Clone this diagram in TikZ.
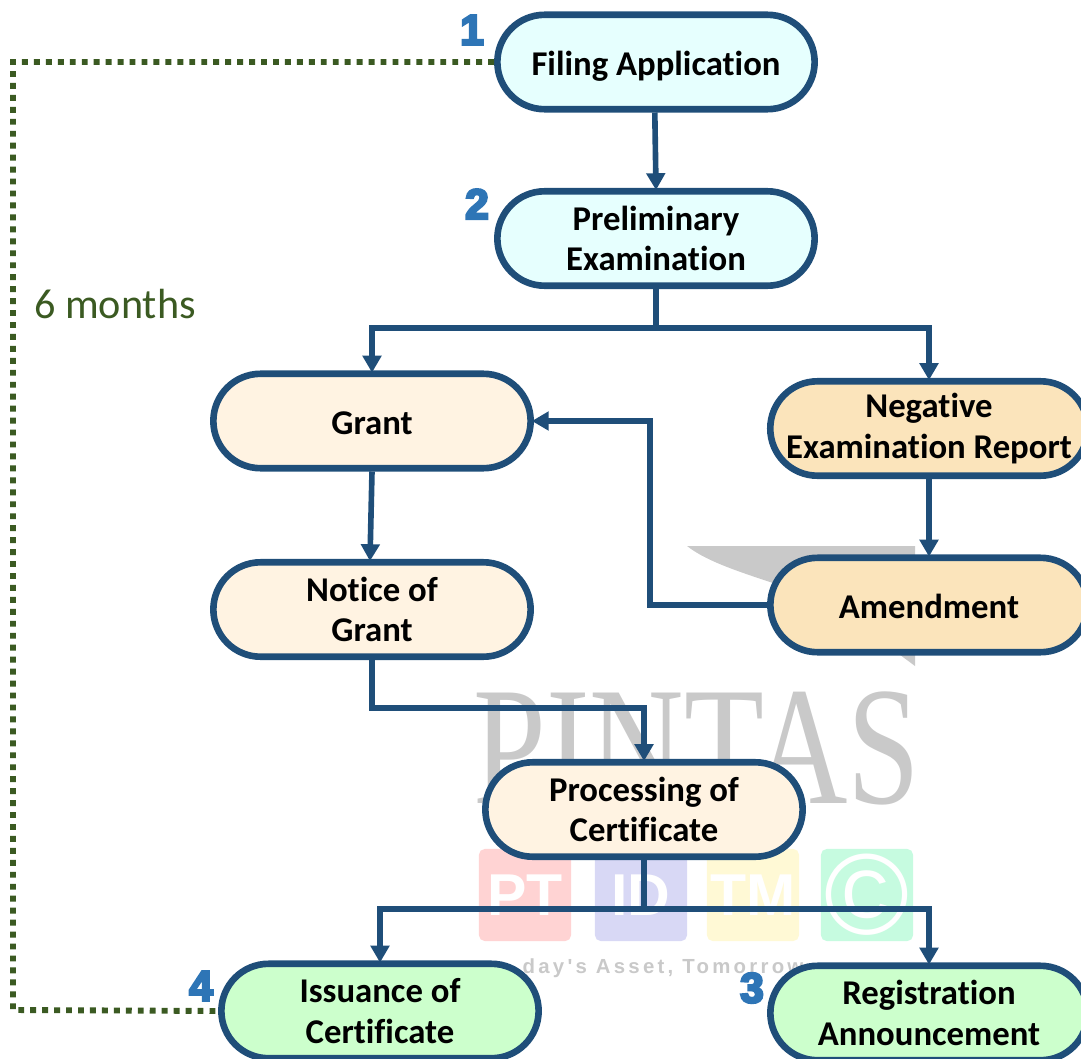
\documentclass[tikz,border=0pt]{standalone}
\usepackage{fontspec}
\usepackage{tikz}
\usetikzlibrary{arrows.meta,shapes.misc}
\setmainfont{Carlito}[Ligatures=NoCommon]
\newfontfamily\stepfont[FakeBold=6]{Liberation Sans}
\newfontfamily\markfont{Liberation Serif}
\newfontfamily\tagfont{Liberation Sans}

\definecolor{linkblue}{HTML}{1F4E79}
\definecolor{numblue}{HTML}{2E75B6}
\definecolor{timegreen}{HTML}{3B5A22}
\definecolor{markgray}{HTML}{C9C9C9}
\definecolor{startfill}{HTML}{E6FFFE}
\definecolor{creamfill}{HTML}{FFF3E2}
\definecolor{sandfill}{HTML}{FBE4BB}
\definecolor{mintfill}{HTML}{CCFFCC}
\definecolor{tagred}{HTML}{FFD3D3}
\definecolor{tagblue}{HTML}{D8D8F5}
\definecolor{tagyellow}{HTML}{FFF9D5}
\definecolor{tagmint}{HTML}{C6FBE0}

\tikzset{
	stage/.style={draw=linkblue, line width=4.7pt, rounded rectangle,
		minimum width=7.93cm, minimum height=2.36cm, inner sep=0pt, align=center,
		font=\fontsize{24.7}{29}\selectfont\bfseries},
	oneline/.style={text height=24pt, text depth=5pt},
	flow/.style={draw=linkblue, line width=4pt, shorten >=-1.5pt,
		-{Triangle[width=13pt,length=12pt]}},
	trunk/.style={draw=linkblue, line width=4pt},
	period/.style={draw=timegreen, line width=4.2pt,
		dash pattern=on 4.2pt off 4.3pt},
	stepnum/.style={text=numblue, inner sep=0pt, font=\stepfont\fontsize{30}{30}\selectfont\bfseries},
	tagbox/.style={rounded corners=4pt, minimum width=2.3cm, minimum height=2.3cm,
		inner sep=0pt, text=white, font=\tagfont\fontsize{42}{42}\selectfont\bfseries}
}

\begin{document}
\begin{tikzpicture}[x=0.025cm,y=-0.025cm]
	\useasboundingbox (0,0) rectangle (1081,1059);

	% watermark
	\fill[markgray] (687,546) -- (915,546) -- (915,666) -- (880,640)
		.. controls (840,590) and (730,580) .. (687,546);
	\node (markname) at (697,748) [text=markgray, inner sep=0pt, xscale=0.775, transform shape,
		font=\markfont\fontsize{120}{120}\selectfont] {PINTAS};
	\node (tagpt) at (525,895) [tagbox, fill=tagred] {PT};
	\node (tagid) at (641,895) [tagbox, fill=tagblue] {ID};
	\node (tagtm) at (753,895) [tagbox, fill=tagyellow] {TM};
	\node (tagcr) at (867,895) [tagbox, fill=tagmint,
		font=\tagfont\fontsize{82}{82}\selectfont] {\textcopyright};
	\node (markline) at (663,968) [text=markgray, inner sep=0pt,
		font=\tagfont\fontsize{14.5}{15}\selectfont\bfseries] {\addfontfeature{LetterSpace=16}day's Asset, Tomorrow};

	% stages
	\node (filing) at (656,62) [stage, oneline, fill=startfill] {Filing Application};
	\node (prelim) at (656,238.5) [stage, fill=startfill] {Preliminary\\Examination};
	\node (grant) at (372,421) [stage, oneline, fill=creamfill] {Grant};
	\node (negative) at (929,428.5) [stage, fill=sandfill] {Negative\\Examination Report};
	\node (amend) at (929,605) [stage, oneline, fill=sandfill] {Amendment};
	\node (notice) at (372,609.5) [stage, fill=creamfill] {Notice of\\Grant};
	\node (process) at (644,809.5) [stage, fill=creamfill] {Processing of\\Certificate};
	\node (issue) at (380,1011) [stage, fill=mintfill] {Issuance of\\Certificate};
	\node (announce) at (929,1013) [stage, fill=mintfill] {Registration\\Announcement};

	% free ends of the connectors
	\coordinate (busa) at (656,328);
	\coordinate (busb) at (650,500);
	\coordinate (busc) at (644,708);
	\coordinate (busd) at (644,909);
	\coordinate (lefttop) at (13,62);
	\coordinate (leftend) at (13,1010);

	% connectors
	\draw[flow] ([xshift=-0.03cm]filing.south) -- (prelim.north);
	\draw[trunk] (prelim.south) -- (busa);
	\draw[flow] (busa) -| (grant.north);
	\draw[flow] (busa) -| (negative.north);
	\draw[flow] (negative.south) -- (amend.north);
	\draw[flow] (amend.west) -| (busb) |- (grant.east);
	\draw[flow] (grant.south) -- ([xshift=-0.05cm]notice.north);
	\draw[flow] (notice.south) |- (busc) -- (process.north);
	\draw[trunk] (process.south) -- (busd);
	\draw[flow] (busd) -| (issue.north);
	\draw[flow] (busd) -| (announce.north);
	\draw[period] (filing.west) -- (lefttop) -- (leftend) -- (issue.west);

	% labels
	\node (months) at (115,304) [text=timegreen, inner sep=0pt,
		font=\fontsize{30}{30}\selectfont] {6 months};
	\node (numa) at (472,30) [stepnum] {1};
	\node (numb) at (477,204) [stepnum] {2};
	\node (numc) at (752,988) [stepnum] {3};
	\node (numd) at (201,986) [stepnum] {4};
\end{tikzpicture}
\end{document}
